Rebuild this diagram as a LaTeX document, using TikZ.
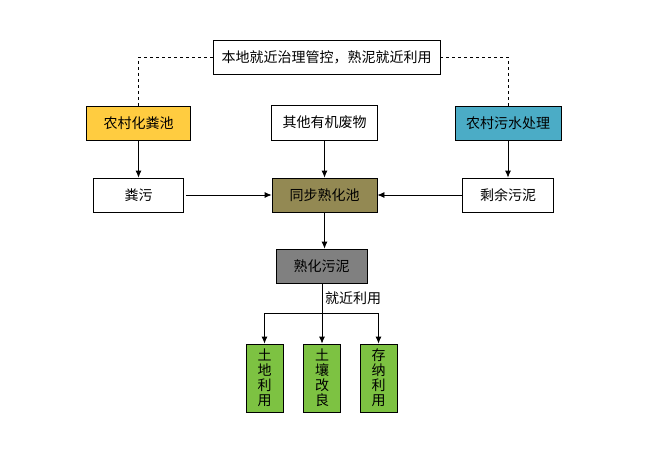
\documentclass[tikz,border=0pt]{standalone}
\usepackage{fontspec}
\newfontfamily\cjk{Noto Sans CJK SC}
\usetikzlibrary{arrows.meta}
\definecolor{jaune}{HTML}{FFCC40}
\definecolor{bleu}{HTML}{4BACC6}
\definecolor{olive}{HTML}{938953}
\definecolor{gris}{HTML}{808080}
\definecolor{vert}{HTML}{7DC242}

\begin{document}
\begin{tikzpicture}[x=1pt,y=-1pt]
% Styles
 \tikzstyle{boite}=[rectangle,draw,line width=0.8pt,inner sep=0pt,font=\cjk\fontsize{14}{16}\selectfont,text=black]
 \tikzstyle{colonne}=[boite,fill=vert,minimum width=37pt,minimum height=68pt,align=center,font=\cjk\fontsize{14}{15}\selectfont]
 \tikzstyle{operation}=[-{Latex[length=7pt,width=6pt]},line width=0.8pt]
 \tikzstyle{pointille}=[dashed,line width=0.7pt]
 \useasboundingbox (0,0) rectangle (661,460);
% Niveau 1
 \node[boite,minimum width=227pt,minimum height=34pt] (titre) at (326.5,57) {本地就近治理管控，熟泥就近利用};
% Niveau 2
 \node[boite,fill=jaune,minimum width=104pt,minimum height=34pt] (fosse) at (138.5,123) {农村化粪池};
 \node[boite,minimum width=106pt,minimum height=35pt] (autres) at (324.5,122.5) {其他有机废物};
 \node[boite,fill=bleu,minimum width=106pt,minimum height=34pt] (eaux) at (508,123) {农村污水处理};
% Niveau 3
 \node[boite,minimum width=90pt,minimum height=34pt] (fumier) at (138.5,195) {粪污};
 \node[boite,fill=olive,minimum width=105pt,minimum height=34pt] (bassin) at (324.5,195) {同步熟化池};
 \node[boite,minimum width=91pt,minimum height=34pt] (residu) at (508,195) {剩余污泥};
% Niveau 4
 \node[boite,fill=gris,minimum width=91pt,minimum height=34pt] (boue) at (321.5,266) {熟化污泥};
 \coordinate (fourche) at (322,313);
 \node[anchor=west,font=\cjk\fontsize{14}{16}\selectfont,inner sep=0pt] (proche) at (325,298) {就近利用};
% Niveau 5
 \node[colonne] (terre) at (264.5,378) {土\\地\\利\\用};
 \node[colonne] (sol) at (322,378) {土\\壤\\改\\良};
 \node[colonne] (stock) at (378.5,378) {存\\纳\\利\\用};
% Liens
 \draw[pointille] (titre.west) -| (fosse.north);
 \draw[pointille] (titre.east) -| (eaux.north);
 \draw[operation] (fosse) -- (fumier);
 \draw[operation] (autres) -- (bassin);
 \draw[operation] (eaux) -- (residu);
 \draw[operation] (fumier.east) ++(2,0) -- (bassin.west);
 \draw[operation] (residu) -- (bassin);
 \draw[operation] (bassin.south) -- (bassin.south |- boue.north);
 \draw[line width=0.8pt] (boue.south -| fourche) -- (fourche);
 \draw[operation] (fourche) -| (terre.north);
 \draw[operation] (fourche) -- (sol.north);
 \draw[operation] (fourche) -| (stock.north);
\end{tikzpicture}
\end{document}
